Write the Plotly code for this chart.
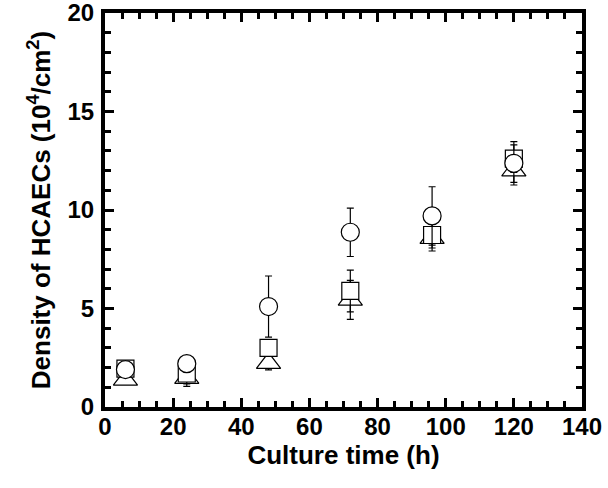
import plotly.graph_objects as go

# Culture time points (h)
time_h = [6, 24, 48, 72, 96, 120]

# Cell density (10^4 / cm^2) for three conditions, with SD
circle_density = [1.9, 2.2, 5.1, 8.87, 9.7, 12.37]
circle_sd = [0.3, 0.3, 1.55, 1.23, 1.48, 1.1]

square_density = [1.95, 1.7, 3.0, 5.89, 8.73, 12.61]
square_sd = [0.3, 0.65, 0.4, 1.06, 0.81, 0.7]

triangle_density = [1.38, 1.47, 2.23, 5.44, 8.57, 12.0]
triangle_sd = [0.2, 0.3, 0.35, 0.99, 0.5, 0.6]

x_ticks = [0, 20, 40, 60, 80, 100, 120, 140]
y_ticks = [0, 5, 10, 15, 20]

FONT = "Liberation Sans, Arial, sans-serif"


def series(y, sd, symbol, size):
    return go.Scatter(
        x=time_h,
        y=y,
        mode="markers",
        marker=dict(symbol=symbol, size=size, color="white",
                    line=dict(color="black", width=1.2)),
        error_y=dict(type="data", array=sd, visible=True,
                     color="black", thickness=1.2, width=3.5),
        showlegend=False,
        cliponaxis=False,
    )


fig = go.Figure()
# drawn back to front: triangles, squares, circles
fig.add_trace(series(triangle_density, triangle_sd, "triangle-up", 21))
fig.add_trace(series(square_density, square_sd, "square", 17))
fig.add_trace(series(circle_density, circle_sd, "circle", 18))

axis_common = dict(
    automargin=False,
    showline=True,
    linewidth=4,
    linecolor="black",
    mirror="allticks",
    ticks="inside",
    ticklen=9,
    tickwidth=3,
    tickcolor="black",
    showgrid=False,
    zeroline=False,
    ticklabeloverflow="allow",
    tickfont=dict(family=FONT, size=24, color="black", weight="bold"),
)

fig.update_xaxes(
    range=[0, 140],
    tickvals=x_ticks,
    ticktext=[str(v) for v in x_ticks],
    ticklabelstandoff=-5,
    minor=dict(dtick=5, tick0=0, ticks="inside", ticklen=6, tickwidth=3,
               tickcolor="black", showgrid=False),
    title=dict(text="Culture time (h)", standoff=0,
               font=dict(family=FONT, size=26, color="black", weight="bold")),
    **axis_common,
)
fig.update_yaxes(
    range=[0, 20],
    tickvals=y_ticks,
    ticktext=[str(v) for v in y_ticks],
    ticklabelstandoff=2,
    minor=dict(dtick=1, tick0=0, ticks="inside", ticklen=6, tickwidth=3,
               tickcolor="black", showgrid=False),
    title=dict(text="Density of HCAECs (10<sup>4</sup>/cm<sup>2</sup>)",
               standoff=10,
               font=dict(family=FONT, size=26, color="black", weight="bold")),
    **axis_common,
)

fig.update_layout(
    width=608,
    height=488,
    margin=dict(l=105, r=26, t=13, b=81),
    paper_bgcolor="white",
    plot_bgcolor="white",
)

fig.write_html("out.html")
